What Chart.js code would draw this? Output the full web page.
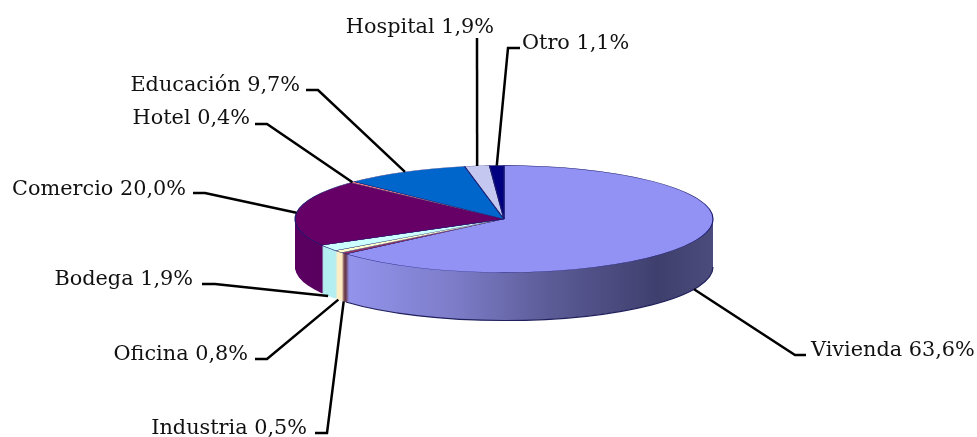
<!DOCTYPE html>
<html>
<head>
<meta charset="utf-8">
<style>
  html, body { margin: 0; background: #fff; }
  #wrap { width: 977px; height: 437px; }
</style>
<script src="https://cdn.jsdelivr.net/npm/chart.js@4/dist/chart.umd.min.js"></script>
</head>
<body>
<div id="wrap"><canvas id="show_chart" width="977" height="437"></canvas></div>
<script>
const categories = ['Vivienda', 'Industria', 'Oficina', 'Bodega', 'Comercio', 'Hotel', 'Educación', 'Hospital', 'Otro']
const shares = [63.6, 0.5, 0.8, 1.9, 20.0, 0.4, 9.7, 1.9, 1.1]
const topColors = ['#9292f5', '#993366', '#ffffcc', '#ccffff', '#660066', '#ff8080', '#0066cc', '#c4c8f0', '#000080']
const wallColors = [null, '#6b3a4a', '#ffeec4', '#b4eef0', '#5a0060', '#b05a5a', '#00478e', '#8f8fb2', '#000059']

// label box: [text x, baseline y, align, elbow x, elbow y, stub x, stub y, leader starts on the lower rim]
const labelSpots = [
    [811, 356, 'left', 795, 355, 806, 355, true],
    [307, 434, 'right', 327, 433, 315, 433, true],
    [248, 360, 'right', 267, 359, 255, 359, true],
    [193, 285, 'right', 215, 284, 202, 284, true],
    [186, 195, 'right', 205, 193, 193, 193, false],
    [250, 124, 'right', 267, 124, 255, 124, false],
    [300, 91, 'right', 318, 90, 306, 90, false],
    [494, 33, 'right', 477, 38, 477, 38, false],
    [522, 49, 'left', 508, 48, 520, 48, false]
]

const squash = 0.256
const depth = 48

const sector = (ctx, arc) => {
    ctx.beginPath()
    ctx.moveTo(arc.x, arc.y)
    ctx.arc(arc.x, arc.y, arc.outerRadius, arc.startAngle, arc.endAngle)
    ctx.closePath()
}

const tilt = (ctx, arc) => {
    ctx.translate(arc.x, arc.y)
    ctx.scale(1, squash)
    ctx.translate(-arc.x, -arc.y)
}

const pie3d = {
    id: 'pie3d',
    beforeDatasetsDraw(chart) {
        const ctx = chart.ctx
        const arcs = chart.getDatasetMeta(0).data

        const wall = ctx.createLinearGradient(345, 0, 713, 0)
        wall.addColorStop(0, '#9494ee')
        wall.addColorStop(0.3, '#7c7cc8')
        wall.addColorStop(0.55, '#5c5c98')
        wall.addColorStop(0.85, '#3f3f6e')
        wall.addColorStop(1, '#4c4c7c')

        // stack the side wall from the bottom up
        for (let dy = depth; dy >= 1; dy--) {
            arcs.forEach((arc, i) => {
                ctx.save()
                ctx.translate(0, dy)
                tilt(ctx, arc)
                sector(ctx, arc)
                ctx.fillStyle = wallColors[i] || wall
                ctx.fill()
                ctx.restore()
            })
        }

        // dark edge along the lower rim
        const first = arcs[0]
        ctx.save()
        ctx.translate(0, depth)
        tilt(ctx, first)
        ctx.beginPath()
        ctx.arc(first.x, first.y, first.outerRadius, 0, first.endAngle)
        ctx.restore()
        ctx.strokeStyle = '#20205c'
        ctx.lineWidth = 1.2
        ctx.stroke()

        ctx.save()
        tilt(ctx, first)
    },
    afterDatasetsDraw(chart) {
        const ctx = chart.ctx
        ctx.restore()

        const arcs = chart.getDatasetMeta(0).data
        ctx.textBaseline = 'alphabetic'
        arcs.forEach((arc, i) => {
            const spot = labelSpots[i]
            const mid = (arc.startAngle + arc.endAngle) / 2
            const rimX = arc.x + arc.outerRadius * Math.cos(mid)
            const rimY = arc.y + arc.outerRadius * squash * Math.sin(mid) + (spot[7] ? depth : 0)

            ctx.beginPath()
            ctx.moveTo(rimX, rimY)
            ctx.lineTo(spot[3], spot[4])
            ctx.lineTo(spot[5], spot[6])
            ctx.strokeStyle = '#000'
            ctx.lineWidth = 2.5
            ctx.stroke()

            ctx.font = '20.8px "DejaVu Serif"'
            ctx.fillStyle = '#111'
            ctx.textAlign = spot[2]
            ctx.fillText(categories[i] + ' ' + shares[i].toFixed(1).replace('.', ',') + '%', spot[0], spot[1])
        })
    }
}

new Chart(document.querySelector('#show_chart').getContext('2d'), {
    type: 'pie',
    data: {
        labels: categories,
        datasets: [
            {
                data: shares,
                backgroundColor: topColors,
                borderColor: '#1a1a70',
                borderWidth: 1.2
            }
        ]
    },
    options: {
        responsive: false,
        animation: false,
        events: [],
        radius: 209,
        layout: { padding: { left: 31, top: 1 } },
        plugins: { legend: { display: false }, tooltip: { enabled: false } }
    },
    plugins: [pie3d]
})
</script>
</body>
</html>
